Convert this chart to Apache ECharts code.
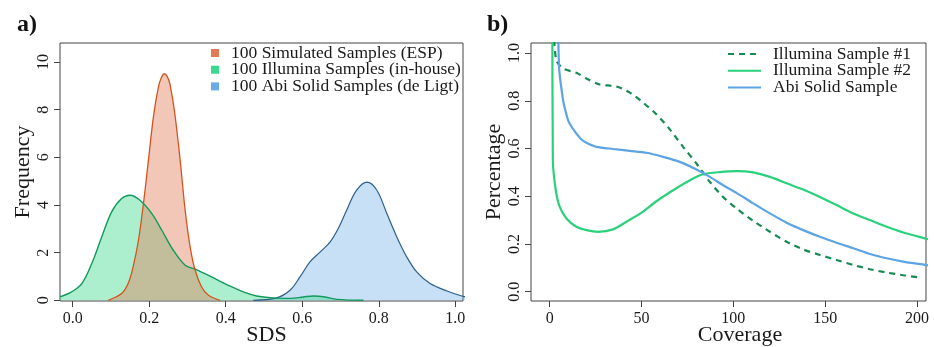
<!DOCTYPE html>
<html><head><meta charset="utf-8">
<script src="https://cdn.jsdelivr.net/npm/echarts@6/dist/echarts.min.js"></script>
<style>html,body{margin:0;padding:0;background:#fff}#c{width:934px;height:347px}</style>
</head><body><div id="c"></div>
<script>
// ---------- Panel a) density curves (SDS vs Frequency) ----------
const espName = '100 Simulated Samples (ESP)';
const espX = [0.093,0.128,0.145,0.158,0.172,0.185,0.198,0.211,0.224,0.232,0.2395,0.247,0.254,0.267,0.281,0.294,0.307,0.320,0.337,0.355,0.385];
const espY = [0,0.28,0.70,1.40,2.52,4.06,5.87,7.69,8.95,9.35,9.51,9.40,9.09,7.83,5.87,3.78,2.24,1.26,0.56,0.21,0];

const illName = '100 Illumina Samples (in-house)';
const illX = [-0.033,-0.003,0.024,0.050,0.076,0.102,0.128,0.150,0.176,0.207,0.233,0.263,0.294,0.320,0.363,0.407,0.446,0.481,0.524,0.568,0.603,0.629,0.660,0.690,0.760];
const illY = [0.14,0.35,0.70,1.54,2.66,3.71,4.27,4.41,4.20,3.64,2.94,2.10,1.47,1.31,0.98,0.63,0.35,0.18,0.10,0.08,0.14,0.18,0.14,0.04,0];

const abiName = '100 Abi Solid Samples (de Ligt)';
const abiX = [0.472,0.533,0.568,0.594,0.620,0.647,0.673,0.694,0.716,0.742,0.769,0.795,0.821,0.847,0.873,0.899,0.934,0.978,1.019,1.03];
const abiY = [0,0.10,0.42,0.98,1.61,2.03,2.45,3.01,3.78,4.62,4.96,4.62,3.64,2.66,1.82,1.19,0.70,0.39,0.17,0.14];

const sdsTicks = [0,0.2,0.4,0.6,0.8,1.0];
const freqTicks = [0,2,4,6,8,10];

// ---------- Panel b) coverage curves ----------
const cov1Name = 'Illumina Sample #1';
const cov1X = [2.0,3.6,7.3,14.5,20,27.2,36.3,43.6,50.9,58.1,65.4,72.6,79.9,87.2,94.4,101.7,110.8,119.9,129,138,147.1,156.2,165.3,174.4,183.5,192.5,201.6];
const cov1Y = [1.10,0.969,0.935,0.917,0.893,0.868,0.860,0.834,0.792,0.743,0.680,0.607,0.537,0.460,0.397,0.349,0.297,0.251,0.209,0.177,0.154,0.133,0.112,0.094,0.080,0.069,0.059];

const cov2Name = 'Illumina Sample #2';
const cov2X = [1.4,1.7,3.3,5.4,9.1,14.5,20,26.3,34.5,41.8,50,58.1,67.2,76.3,83.5,92.6,101.7,110.8,119.9,129,138,147.1,156.2,165.3,174.4,183.5,192.5,204.4,206];
const cov2Y = [1.30,0.551,0.425,0.356,0.307,0.272,0.258,0.251,0.261,0.293,0.331,0.379,0.425,0.467,0.492,0.501,0.505,0.500,0.481,0.454,0.428,0.397,0.363,0.328,0.300,0.272,0.248,0.223,0.220];

const cov3Name = 'Abi Solid Sample';
const cov3X = [4.3,5.1,7.3,8.5,10,12,14.5,17,20,25.4,34.5,43.6,52.7,61.7,70.8,79.9,87.2,94.4,101.7,110.8,119.9,129,138,147.1,156.2,165.3,174.4,183.5,192.5,204.4,206];
const cov3Y = [1.30,0.94,0.80,0.76,0.718,0.69,0.663,0.64,0.624,0.607,0.598,0.590,0.582,0.565,0.544,0.512,0.481,0.446,0.414,0.370,0.328,0.289,0.258,0.230,0.205,0.182,0.158,0.140,0.126,0.112,0.110];

const covTicks = [0,50,100,150,200];
const pctTicks = [0,0.2,0.4,0.6,0.8,1.0];

const FONT = 'Liberation Serif';
const TXT = '#1a1a1a';
const AX = '#444';
const zip = (xs, ys) => xs.map((x, i) => [x, ys[i]]);

function xAxisDef(gi, min, max, ticks, fmt, name, pad) {
  return {
    gridIndex: gi, type: 'value', min: min, max: max,
    axisLine: {show: false, onZero: false}, splitLine: {show: false},
    axisTick: {show: true, length: 6, lineStyle: {color: AX, width: 1}, customValues: ticks},
    axisLabel: {customValues: ticks, formatter: fmt, margin: 10, color: TXT, fontFamily: FONT, fontSize: 16},
    name: name, nameLocation: 'middle', nameGap: 23, nameMoveOverlap: false,
    nameTextStyle: {fontFamily: FONT, fontSize: 22, color: TXT, padding: pad}
  };
}
function yAxisDef(gi, min, max, ticks, fmt, name, pad) {
  return {
    gridIndex: gi, type: 'value', min: min, max: max,
    axisLine: {show: false, onZero: false}, splitLine: {show: false},
    axisTick: {show: true, length: 6, lineStyle: {color: AX, width: 1}, customValues: ticks},
    axisLabel: {customValues: ticks, formatter: fmt, rotate: 90, margin: 8, color: TXT, fontFamily: FONT, fontSize: 16},
    name: name, nameLocation: 'middle', nameGap: 26, nameRotate: 90, nameMoveOverlap: false,
    nameTextStyle: {fontFamily: FONT, fontSize: 22, color: TXT, padding: pad}
  };
}

const chart = echarts.init(document.getElementById('c'));
chart.setOption({
  animation: false,
  backgroundColor: '#fff',
  grid: [
    {left: 60, top: 43, width: 403, height: 258, show: true, borderColor: AX, borderWidth: 1, backgroundColor: 'transparent', containLabel: false, outerBoundsMode: 'none'},
    {left: 531, top: 43, width: 395, height: 258, show: true, borderColor: AX, borderWidth: 1, backgroundColor: 'transparent', containLabel: false, outerBoundsMode: 'none'}
  ],
  xAxis: [
    xAxisDef(0, -0.033, 1.02, sdsTicks, v => v.toFixed(1), 'SDS', [0, 0, 0, 10]),
    xAxisDef(1, -10.2, 204.9, covTicks, v => String(v), 'Coverage', [0, 0, 0, 23])
  ],
  yAxis: [
    yAxisDef(0, -0.03, 10.8, freqTicks, v => String(v), 'Frequency', [0, 0, 0, 0]),
    yAxisDef(1, -0.039, 1.042, pctTicks, v => v.toFixed(1), 'Percentage', [0, 0, 0, 0])
  ],
  legend: [
    {
      left: 211, top: 44, orient: 'vertical', padding: 0, itemGap: -1.3,
      itemWidth: 8, itemHeight: 8, icon: 'rect', selectedMode: false,
      textStyle: {fontFamily: FONT, fontSize: 17.5, color: TXT, lineHeight: 16.7, padding: [0, 0, 0, 7]},
      data: [
        {name: espName, itemStyle: {color: '#E27A55', borderWidth: 0}},
        {name: illName, itemStyle: {color: '#38D98C', borderWidth: 0}},
        {name: abiName, itemStyle: {color: '#68ACE6', borderWidth: 0}}
      ]
    },
    {
      left: 727, top: 45, orient: 'vertical', padding: 0, itemGap: -1.3,
      itemWidth: 33, itemHeight: 12, selectedMode: false,
      itemStyle: {opacity: 0},
      textStyle: {fontFamily: FONT, fontSize: 17.5, color: TXT, lineHeight: 16.7, padding: [0, 0, 0, 7]},
      data: [cov1Name, cov2Name, cov3Name]
    }
  ],
  graphic: [
    {type: 'text', left: 17, top: 13, style: {text: 'a)', font: 'bold 24px "Liberation Serif"', fill: '#111'}},
    {type: 'text', left: 487, top: 13, style: {text: 'b)', font: 'bold 24px "Liberation Serif"', fill: '#111'}}
  ],
  series: [
    {name: abiName, type: 'line', xAxisIndex: 0, yAxisIndex: 0, data: zip(abiX, abiY), smooth: 0.35, symbol: 'none',
     lineStyle: {color: '#2C5F8D', width: 1.2}, itemStyle: {color: '#2C5F8D'},
     areaStyle: {color: '#68ACE6', opacity: 0.37}},
    {name: illName, type: 'line', xAxisIndex: 0, yAxisIndex: 0, data: zip(illX, illY), smooth: 0.35, symbol: 'none',
     lineStyle: {color: '#12995B', width: 1.4}, itemStyle: {color: '#12995B'},
     areaStyle: {color: '#38D98C', opacity: 0.42}},
    {name: espName, type: 'line', xAxisIndex: 0, yAxisIndex: 0, data: zip(espX, espY), smooth: 0.35, symbol: 'none',
     lineStyle: {color: '#D4531C', width: 1.3}, itemStyle: {color: '#D4531C'},
     areaStyle: {color: '#E27A55', opacity: 0.42}},
    {name: cov1Name, type: 'line', xAxisIndex: 1, yAxisIndex: 1, data: zip(cov1X, cov1Y), symbol: 'none', clip: true, smooth: 0.25,
     lineStyle: {color: '#178A52', width: 2.2, type: [6, 5]}, itemStyle: {color: '#178A52'}},
    {name: cov2Name, type: 'line', xAxisIndex: 1, yAxisIndex: 1, data: zip(cov2X, cov2Y), symbol: 'none', clip: true, smooth: 0.25,
     lineStyle: {color: '#2AD17C', width: 2.2}, itemStyle: {color: '#2AD17C'}},
    {name: cov3Name, type: 'line', xAxisIndex: 1, yAxisIndex: 1, data: zip(cov3X, cov3Y), symbol: 'none', clip: true, smooth: 0.25,
     lineStyle: {color: '#5CA4E4', width: 2.2}, itemStyle: {color: '#5CA4E4'}}
  ]
});
</script>
</body></html>
